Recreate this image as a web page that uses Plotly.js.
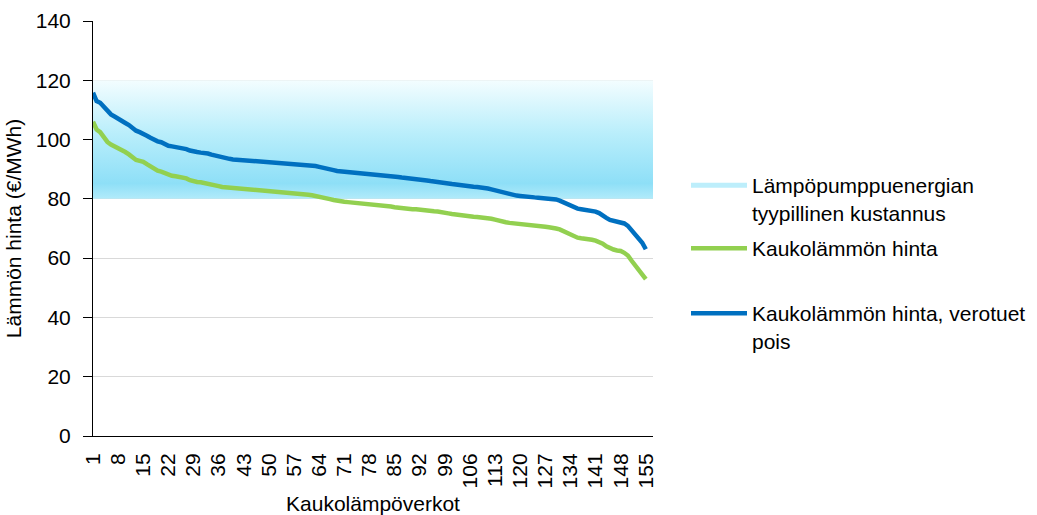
<!DOCTYPE html>
<html><head><meta charset="utf-8">
<script src="https://cdn.plot.ly/plotly-3.0.1.min.js"></script>
<style>html,body{margin:0;padding:0;background:#fff}#chart{width:1037px;height:515px}</style>
</head><body><div id="chart"></div>
<script>
// Kaukolämmön hinta (€/MWh), networks sorted by price
const districtHeat = [
106.0,103.4,102.5,100.8,99.2,98.3,97.7,97.3,96.7,95.8,
95.0,94.0,93.1,92.8,92.5,91.7,90.9,90.0,89.5,89.2,
88.6,88.1,87.8,87.6,87.4,87.2,86.9,86.3,85.8,85.7,
85.6,85.4,85.2,84.9,84.7,84.3,84.0,83.9,83.7,83.6,
83.5,83.4,83.3,83.3,83.2,83.2,83.1,83.0,82.8,82.8,
82.6,82.5,82.3,82.2,82.2,82.1,82.0,81.9,81.8,81.6,
81.4,81.2,81.0,80.8,80.5,80.2,79.9,79.6,79.3,79.2,
79.0,78.9,78.8,78.7,78.5,78.4,78.3,78.2,78.1,78.0,
77.9,77.7,77.5,77.4,77.2,77.0,76.8,76.7,76.6,76.5,
76.5,76.3,76.1,76.0,75.9,75.8,75.7,75.6,75.4,75.1,
74.9,74.7,74.6,74.4,74.3,74.2,74.0,73.9,73.8,73.7,
73.6,73.3,73.0,72.6,72.3,72.1,71.9,71.8,71.6,71.4,
71.3,71.2,71.1,71.0,70.9,70.8,70.6,70.4,70.3,70.0,
69.7,69.1,68.5,67.9,67.3,66.9,66.7,66.6,66.4,66.2,
65.9,65.5,64.9,64.0,63.3,62.9,62.6,62.4,61.8,60.9,
59.2,57.6,55.8,54.2,52.9
];
// Kaukolämmön hinta, verotuet pois (€/MWh)
const districtHeatNoTaxSupport = [
115.8,113.0,112.4,111.0,109.5,108.5,107.8,107.2,106.4,105.6,
104.9,103.8,103.0,102.5,102.1,101.3,100.6,99.8,99.4,99.1,
98.4,97.9,97.7,97.5,97.3,97.1,96.8,96.3,95.9,95.8,
95.6,95.5,95.3,94.9,94.6,94.2,93.8,93.6,93.5,93.3,
93.2,93.1,93.0,93.0,92.9,92.9,92.8,92.7,92.6,92.6,
92.5,92.4,92.3,92.2,92.1,92.0,91.9,91.8,91.7,91.6,
91.4,91.3,91.1,90.8,90.6,90.3,90.0,89.7,89.4,89.3,
89.2,89.1,89.0,88.9,88.7,88.6,88.5,88.4,88.3,88.3,
88.1,87.9,87.8,87.7,87.6,87.4,87.2,87.1,87.0,86.8,
86.7,86.5,86.4,86.2,86.0,85.9,85.7,85.6,85.4,85.2,
85.0,84.8,84.7,84.5,84.4,84.3,84.1,84.0,83.9,83.7,
83.5,83.2,82.9,82.5,82.2,81.9,81.5,81.3,81.1,81.0,
80.8,80.7,80.6,80.5,80.4,80.3,80.2,80.1,80.0,79.8,
79.4,78.8,78.3,77.8,77.1,76.7,76.5,76.3,76.2,76.0,
75.7,75.2,74.6,73.6,72.9,72.6,72.4,72.2,71.7,70.9,
69.6,68.3,67.0,65.2,63.0
];
// Lämpöpumppuenergian tyypillinen kustannus (€/MWh): low and high bound
const heatPumpBand = [80, 120];
const categories = districtHeat.map((_, i) => i + 1);
const tickValues = [1,8,15,22,29,36,43,50,57,64,71,78,85,92,99,106,113,120,127,134,141,148,155];
const tickLabels = tickValues.map(String);
const seriesNames = [
  'Lämpöpumppuenergian<br>tyypillinen kustannus',
  'Kaukolämmön hinta',
  'Kaukolämmön hinta, verotuet<br>pois'
];

const X_MAX = 157;
const FONT = '"Liberation Sans", Arial, sans-serif';
const FS = 21;
const W = 1037, H = 515;

const traces = [
  {
    type: 'scatter', mode: 'none',
    x: [1, X_MAX, X_MAX, 1],
    y: [heatPumpBand[0], heatPumpBand[0], heatPumpBand[1], heatPumpBand[1]],
    fill: 'toself',
    fillgradient: {
      type: 'vertical',
      colorscale: [[0, '#b2ebfa'], [0.13, '#8edff7'], [0.55, '#b9eefb'], [1, '#f3fdff']]
    },
    showlegend: false, hoverinfo: 'skip'
  },
  {
    type: 'scatter', mode: 'lines', x: [null], y: [null],
    name: seriesNames[0], legend: 'legend',
    line: {color: '#bdeefb', width: 5}
  },
  {
    type: 'scatter', mode: 'lines', x: categories, y: districtHeat,
    name: seriesNames[1], legend: 'legend2',
    line: {color: '#92d050', width: 4.5}
  },
  {
    type: 'scatter', mode: 'lines', x: categories, y: districtHeatNoTaxSupport,
    name: seriesNames[2], legend: 'legend3',
    line: {color: '#0070c0', width: 4.5}
  }
];

function legendAt(leftPx, topPx) {
  return {
    xref: 'container', yref: 'container',
    x: leftPx / W, y: 1 - topPx / H,
    xanchor: 'left', yanchor: 'top',
    itemwidth: 56, valign: 'top',
    bgcolor: 'rgba(0,0,0,0)', borderwidth: 0,
    font: {family: FONT, size: FS, color: '#000'}
  };
}

const layout = {
  width: W, height: H,
  margin: {l: 93, r: 384, t: 21, b: 79},
  paper_bgcolor: '#fff', plot_bgcolor: '#fff',
  font: {family: FONT, size: FS, color: '#000'},
  showlegend: true,
  legend: legendAt(686, 165),
  legend2: legendAt(686, 228),
  legend3: legendAt(686, 293),
  xaxis: {
    range: [1, X_MAX], tickmode: 'array', tickvals: tickValues, ticktext: tickLabels,
    tickangle: -90, ticks: '', showgrid: false, zeroline: false,
    showline: true, linecolor: '#000', linewidth: 1,
    ticklabelstandoff: 8,
    tickfont: {family: FONT, size: FS, color: '#000'},
    title: {text: 'Kaukolämpöverkot', font: {family: FONT, size: FS, color: '#000'}, standoff: 8}
  },
  yaxis: {
    range: [0, 140], dtick: 20, ticks: 'outside', ticklen: 9, tickcolor: '#000',
    showline: true, linecolor: '#000', linewidth: 1,
    gridcolor: '#d9d9d9', gridwidth: 1, zeroline: false,
    ticklabelstandoff: 8,
    tickfont: {family: FONT, size: FS, color: '#000'},
    title: {text: 'Lämmön hinta (€/MWh)', font: {family: FONT, size: FS, color: '#000'}, standoff: 8}
  }
};

Plotly.newPlot('chart', traces, layout, {displayModeBar: false, staticPlot: true});
</script>
</body></html>
